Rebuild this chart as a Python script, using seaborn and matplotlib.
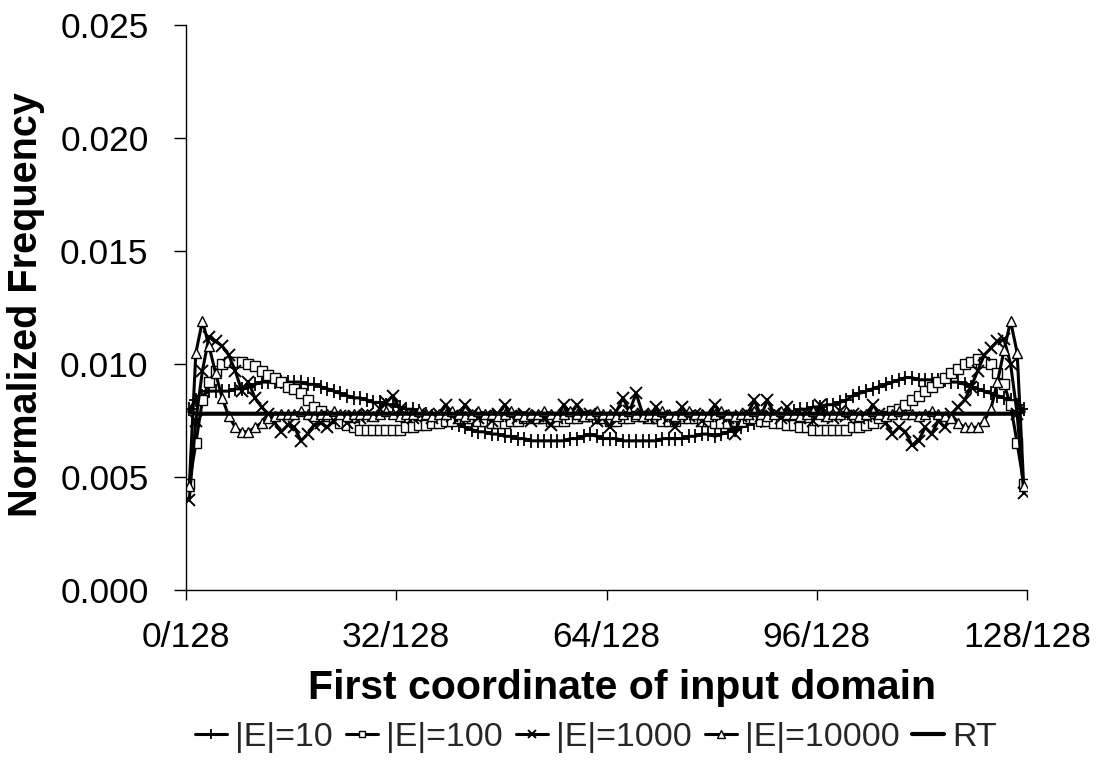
import numpy as np
import pandas as pd
import matplotlib
matplotlib.use("Agg")
import matplotlib.pyplot as plt
import seaborn as sns

# ---------------- data ----------------
n_bins = 128
bins = np.arange(n_bins)          # bin index 0..127 (bin i covers [i, i+1)/128)

e10 = [0.0080, 0.0084, 0.0086, 0.0088, 0.0088, 0.0088, 0.0088, 0.0089, 0.0089, 0.0090, 0.0091, 0.0092, 0.0092, 0.0092, 0.0092, 0.0092,
       0.0092, 0.0092, 0.0091, 0.0091, 0.0090, 0.0089, 0.0088, 0.0087, 0.0086, 0.0085, 0.0085, 0.0084, 0.0083, 0.0083, 0.0082, 0.0082,
       0.0081, 0.0080, 0.0080, 0.0079, 0.0078, 0.0077, 0.0076, 0.0075, 0.0074, 0.0073, 0.0072, 0.0071, 0.0070, 0.0070, 0.0069, 0.0069,
       0.0068, 0.0068, 0.0067, 0.0067, 0.0066, 0.0066, 0.0066, 0.0066, 0.0066, 0.0066, 0.0067, 0.0067, 0.0068, 0.0069, 0.0068, 0.0067,
       0.0067, 0.0067, 0.0066, 0.0066, 0.0066, 0.0066, 0.0066, 0.0066, 0.0067, 0.0067, 0.0067, 0.0067, 0.0068, 0.0068, 0.0069, 0.0069,
       0.0068, 0.0069, 0.0070, 0.0071, 0.0072, 0.0073, 0.0074, 0.0075, 0.0076, 0.0077, 0.0078, 0.0078, 0.0079, 0.0080, 0.0080, 0.0081,
       0.0081, 0.0082, 0.0082, 0.0083, 0.0084, 0.0086, 0.0087, 0.0088, 0.0089, 0.0090, 0.0091, 0.0092, 0.0093, 0.0094, 0.0094, 0.0093,
       0.0093, 0.0093, 0.0093, 0.0093, 0.0092, 0.0092, 0.0091, 0.0090, 0.0089, 0.0088, 0.0087, 0.0086, 0.0085, 0.0084, 0.0082, 0.0080]

e100 = [0.0047, 0.0065, 0.0084, 0.0092, 0.0097, 0.0100, 0.0101, 0.0101, 0.0101, 0.0100, 0.0099, 0.0097, 0.0095, 0.0094, 0.0092, 0.0090,
        0.0089, 0.0087, 0.0084, 0.0081, 0.0079, 0.0077, 0.0076, 0.0074, 0.0073, 0.0072, 0.0071, 0.0071, 0.0071, 0.0071, 0.0071, 0.0071,
        0.0071, 0.0072, 0.0072, 0.0073, 0.0073, 0.0074, 0.0074, 0.0075, 0.0075, 0.0076, 0.0076, 0.0076, 0.0075, 0.0075, 0.0074, 0.0074,
        0.0074, 0.0075, 0.0075, 0.0076, 0.0076, 0.0076, 0.0076, 0.0075, 0.0075, 0.0075, 0.0076, 0.0076, 0.0077, 0.0077, 0.0076, 0.0076,
        0.0075, 0.0075, 0.0076, 0.0076, 0.0077, 0.0077, 0.0076, 0.0076, 0.0075, 0.0075, 0.0075, 0.0076, 0.0076, 0.0076, 0.0075, 0.0075,
        0.0074, 0.0074, 0.0074, 0.0075, 0.0075, 0.0076, 0.0076, 0.0075, 0.0075, 0.0074, 0.0074, 0.0073, 0.0073, 0.0072, 0.0072, 0.0071,
        0.0071, 0.0071, 0.0071, 0.0071, 0.0071, 0.0072, 0.0072, 0.0073, 0.0074, 0.0076, 0.0077, 0.0079, 0.0080, 0.0082, 0.0084, 0.0086,
        0.0088, 0.0090, 0.0092, 0.0094, 0.0096, 0.0098, 0.0100, 0.0101, 0.0102, 0.0101, 0.0100, 0.0096, 0.0091, 0.0082, 0.0065, 0.0047]

e1000 = [0.0040, 0.0075, 0.0097, 0.0112, 0.0110, 0.0108, 0.0104, 0.0097, 0.0088, 0.0092, 0.0085, 0.0081, 0.0078, 0.0074, 0.0070, 0.0073,
         0.0072, 0.0066, 0.0069, 0.0073, 0.0074, 0.0072, 0.0075, 0.0077, 0.0074, 0.0077, 0.0076, 0.0078, 0.0077, 0.0080, 0.0083, 0.0086,
         0.0080, 0.0077, 0.0076, 0.0078, 0.0077, 0.0076, 0.0078, 0.0082, 0.0077, 0.0076, 0.0082, 0.0078, 0.0076, 0.0077, 0.0075, 0.0078,
         0.0082, 0.0077, 0.0076, 0.0078, 0.0075, 0.0077, 0.0076, 0.0073, 0.0076, 0.0082, 0.0078, 0.0082, 0.0077, 0.0078, 0.0075, 0.0076,
         0.0072, 0.0079, 0.0085, 0.0079, 0.0087, 0.0078, 0.0076, 0.0081, 0.0077, 0.0076, 0.0072, 0.0081, 0.0077, 0.0078, 0.0075, 0.0077,
         0.0082, 0.0077, 0.0076, 0.0069, 0.0077, 0.0078, 0.0084, 0.0077, 0.0084, 0.0078, 0.0076, 0.0081, 0.0077, 0.0076, 0.0078, 0.0075,
         0.0082, 0.0077, 0.0076, 0.0079, 0.0077, 0.0078, 0.0076, 0.0077, 0.0082, 0.0078, 0.0074, 0.0069, 0.0072, 0.0070, 0.0064, 0.0066,
         0.0072, 0.0069, 0.0075, 0.0072, 0.0078, 0.0081, 0.0084, 0.0090, 0.0097, 0.0104, 0.0107, 0.0110, 0.0111, 0.0100, 0.0078, 0.0043]

e10000 = [0.0046, 0.0105, 0.0119, 0.0108, 0.0096, 0.0085, 0.0077, 0.0072, 0.0070, 0.0070, 0.0072, 0.0074, 0.0076, 0.0077, 0.0078, 0.0078,
          0.0078, 0.0079, 0.0078, 0.0077, 0.0078, 0.0078, 0.0079, 0.0078, 0.0077, 0.0078, 0.0078, 0.0078, 0.0077, 0.0078, 0.0079, 0.0078,
          0.0077, 0.0078, 0.0078, 0.0079, 0.0078, 0.0077, 0.0078, 0.0078, 0.0079, 0.0078, 0.0077, 0.0078, 0.0079, 0.0078, 0.0078, 0.0077,
          0.0078, 0.0079, 0.0078, 0.0077, 0.0078, 0.0078, 0.0079, 0.0078, 0.0077, 0.0078, 0.0079, 0.0078, 0.0077, 0.0078, 0.0079, 0.0078,
          0.0078, 0.0077, 0.0078, 0.0079, 0.0078, 0.0077, 0.0078, 0.0078, 0.0079, 0.0078, 0.0077, 0.0078, 0.0079, 0.0078, 0.0078, 0.0077,
          0.0078, 0.0079, 0.0078, 0.0077, 0.0078, 0.0078, 0.0079, 0.0078, 0.0077, 0.0078, 0.0079, 0.0078, 0.0078, 0.0077, 0.0078, 0.0079,
          0.0078, 0.0077, 0.0078, 0.0078, 0.0079, 0.0078, 0.0077, 0.0078, 0.0079, 0.0078, 0.0077, 0.0078, 0.0079, 0.0078, 0.0078, 0.0077,
          0.0078, 0.0079, 0.0078, 0.0077, 0.0076, 0.0074, 0.0072, 0.0072, 0.0072, 0.0075, 0.0080, 0.0092, 0.0106, 0.0119, 0.0105, 0.0046]

rt = [0.0079, 0.0078, 0.0078, 0.0078, 0.0078, 0.0078, 0.0078, 0.0078, 0.0078, 0.0078, 0.0078, 0.0078, 0.0078, 0.0078, 0.0078, 0.0078,
      0.0078, 0.0078, 0.0078, 0.0078, 0.0078, 0.0078, 0.0078, 0.0078, 0.0078, 0.0078, 0.0078, 0.0078, 0.0078, 0.0078, 0.0078, 0.0078,
      0.0078, 0.0078, 0.0078, 0.0078, 0.0078, 0.0078, 0.0078, 0.0078, 0.0078, 0.0078, 0.0078, 0.0078, 0.0078, 0.0078, 0.0078, 0.0078,
      0.0078, 0.0078, 0.0078, 0.0078, 0.0078, 0.0078, 0.0078, 0.0078, 0.0078, 0.0078, 0.0078, 0.0078, 0.0078, 0.0078, 0.0078, 0.0078,
      0.0078, 0.0078, 0.0078, 0.0078, 0.0078, 0.0078, 0.0078, 0.0078, 0.0078, 0.0078, 0.0078, 0.0078, 0.0078, 0.0078, 0.0078, 0.0078,
      0.0078, 0.0078, 0.0078, 0.0078, 0.0078, 0.0078, 0.0078, 0.0078, 0.0078, 0.0078, 0.0078, 0.0078, 0.0078, 0.0078, 0.0078, 0.0078,
      0.0078, 0.0078, 0.0078, 0.0078, 0.0078, 0.0078, 0.0078, 0.0078, 0.0078, 0.0078, 0.0078, 0.0078, 0.0078, 0.0078, 0.0078, 0.0078,
      0.0078, 0.0078, 0.0078, 0.0078, 0.0078, 0.0078, 0.0078, 0.0078, 0.0078, 0.0078, 0.0078, 0.0078, 0.0078, 0.0078, 0.0078, 0.0079]

series_names = ["|E|=10", "|E|=100", "|E|=1000", "|E|=10000", "RT"]
series_values = [e10, e100, e1000, e10000, rt]

x_ticks = [0, 32, 64, 96, 128]
x_tick_labels = ["0/128", "32/128", "64/128", "96/128", "128/128"]
y_ticks = [0.000, 0.005, 0.010, 0.015, 0.020, 0.025]

# ---------------- table ----------------
frames = []
for name, vals in zip(series_names, series_values):
    frames.append(pd.DataFrame({"x": bins + 0.5, "freq": vals, "series": name}))
df = pd.concat(frames, ignore_index=True)

# ---------------- style ----------------
sns.set_theme(style="white")
plt.rcParams["font.family"] = ["Liberation Sans", "DejaVu Sans"]

styles = {
    "|E|=10":    dict(marker="+", markersize=10, markeredgewidth=1.3, markerfacecolor="black", linewidth=2.2),
    "|E|=100":   dict(marker="s", markersize=6.5, markeredgewidth=1.0, markerfacecolor="white", linewidth=2.2),
    "|E|=1000":  dict(marker="x", markersize=8, markeredgewidth=1.4, markerfacecolor="black", linewidth=2.2),
    "|E|=10000": dict(marker="^", markersize=7, markeredgewidth=1.0, markerfacecolor="white", linewidth=2.2),
    "RT":        dict(marker=None, linewidth=3.0),
}

fig = plt.figure(figsize=(11.02, 7.63), dpi=100)
ax = fig.add_axes([186 / 1102, 1 - 590 / 763, (1027 - 186) / 1102, (590 - 25) / 763])

for name in series_names:
    st = dict(styles[name])
    sub = df[df["series"] == name]
    kw = dict(color="black", linewidth=st.pop("linewidth"))
    if st.get("marker"):
        kw.update(st)
        kw["markeredgecolor"] = "black"
    sns.lineplot(data=sub, x="x", y="freq", ax=ax, errorbar=None, sort=True,
                 legend=False, label=name, **kw)

ax.set_xlim(0, 128)
ax.set_ylim(0, 0.025)
ax.set_xticks(x_ticks)
ax.set_xticklabels(x_tick_labels)
ax.set_yticks(y_ticks)
ax.set_yticklabels([f"{v:.3f}" for v in y_ticks])

for s in ["top", "right"]:
    ax.spines[s].set_visible(False)
for s in ["left", "bottom"]:
    ax.spines[s].set_color("black")
    ax.spines[s].set_linewidth(1.0)

ax.tick_params(axis="x", direction="out", length=7.5, width=1.0, color="black",
               labelsize=25.5, pad=15, labelcolor="black", bottom=True)
ax.tick_params(axis="y", direction="out", length=8.5, width=1.0, color="black",
               labelsize=25.5, pad=18.5, labelcolor="black", left=True)

ax.set_xlabel("First coordinate of input domain", fontsize=29.5, fontweight="bold", color="black")
ax.set_ylabel("Normalized Frequency", fontsize=28.5, fontweight="bold", color="black")
ax.xaxis.set_label_coords(0.518, -0.14)
ax.yaxis.set_label_coords(-0.168, 0.505)

handles = ax.get_lines()[:5]
leg = fig.legend(handles, series_names, loc="center", bbox_to_anchor=(0.541, 0.034),
                 ncol=5, frameon=False, fontsize=24.5, handlelength=0.94,
                 handletextpad=0.24, columnspacing=0.38, borderaxespad=0,
                 markerscale=0.75)

fig.savefig("out.png", dpi=100, facecolor="white")
